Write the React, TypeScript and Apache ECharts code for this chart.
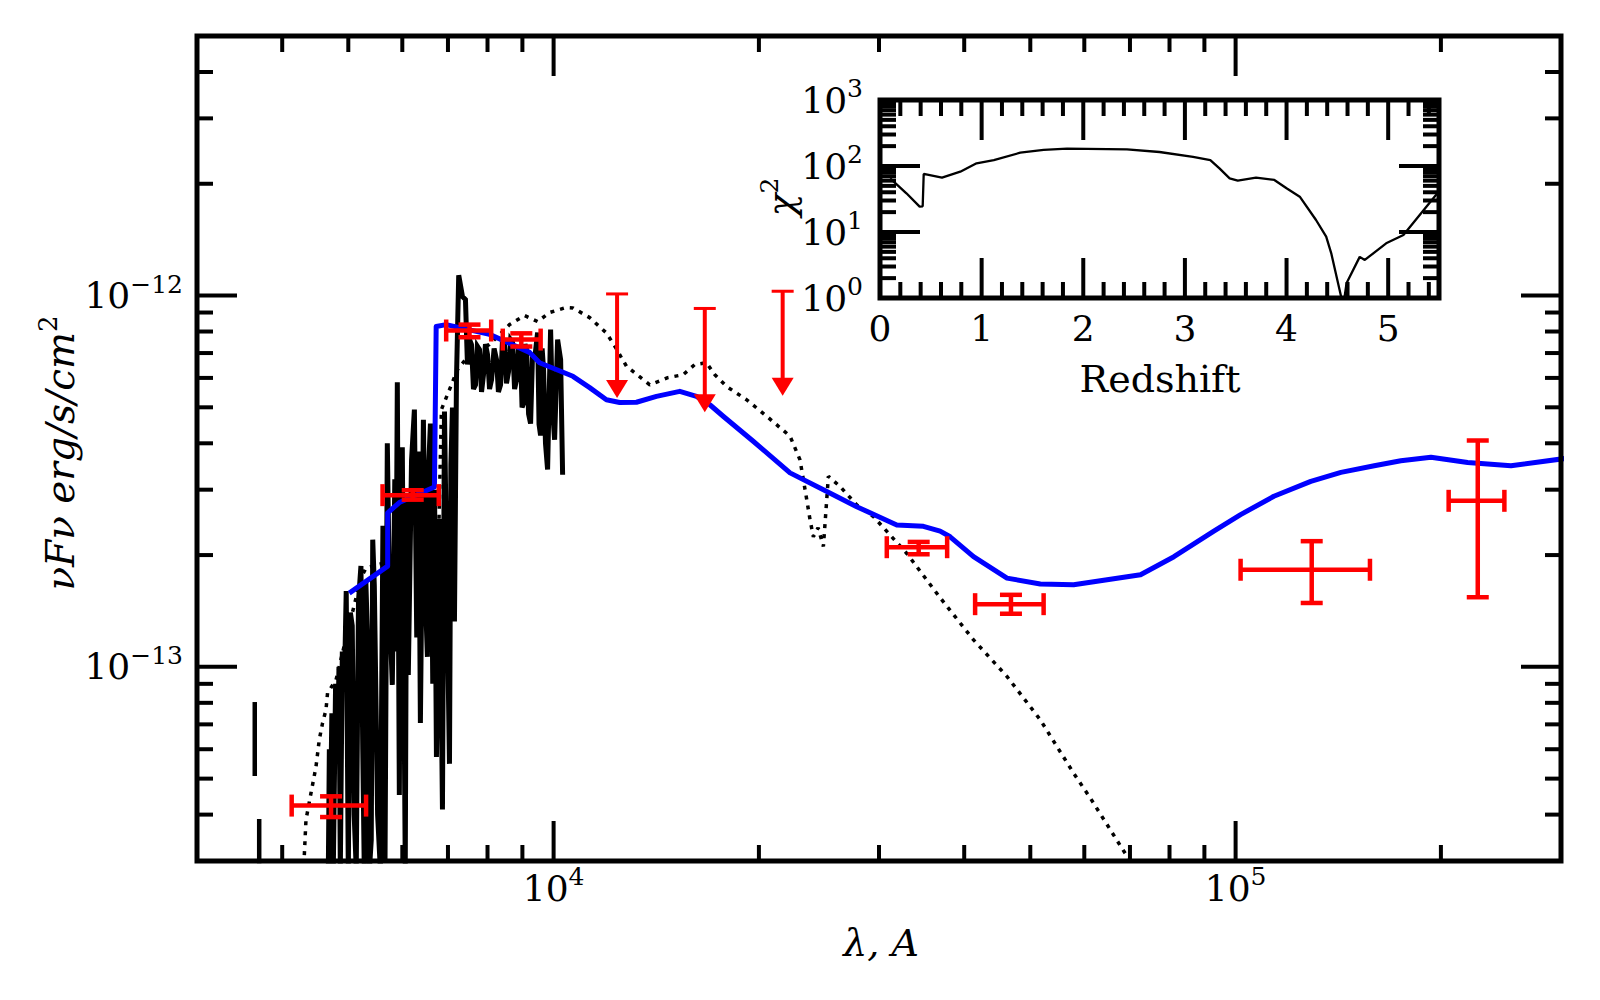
import React, { useEffect, useRef } from 'react';
import * as echarts from 'echarts';

const FONT = 'DejaVu Serif';
const FLUX_UNIT = 1e-14; // flux is plotted in units of 1e-14 erg/s/cm^2 (log axis precision)

// ---------- main panel: observed spectrum (solid black) ----------
const spectrumLambda = [4674, 4690, 4705, 4730, 4753, 4790, 4818, 4845, 4867, 4900, 4933, 4965, 5000, 5035, 5067, 5100, 5136, 5175, 5218, 5250, 5277, 5305, 5331, 5370, 5403, 5430, 5459, 5520, 5572, 5620, 5660, 5704, 5750, 5801, 5850, 5870, 5900, 5940, 5970, 6000, 6060, 6090, 6123, 6190, 6250, 6300, 6340, 6378, 6443, 6490, 6531, 6560, 6598, 6650, 6690, 6733, 6800, 6871, 6918, 6980, 7036, 7070, 7107, 7155, 7204, 7259, 7351, 7426, 7476, 7530, 7578, 7630, 7682, 7730, 7786, 7840, 7892, 7945, 8000, 8055, 8110, 8180, 8247, 8300, 8360, 8415, 8472, 8530, 8588, 8650, 8706, 8766, 8826, 8885, 8944, 8990, 9035, 9080, 9129, 9190, 9252, 9315, 9378, 9474, 9520, 9570, 9620, 9667, 9730, 9799, 9899, 9960, 10034, 10136, 10240, 10309];
const spectrumFlux = [2.84e-14, 6.0e-14, 3.64e-14, 7.5e-14, 2.84e-14, 9.0e-14, 5.61e-14, 1.0e-13, 2.84e-14, 1.1e-13, 8.67e-14, 1.6e-13, 2.84e-14, 1.4e-13, 1.29e-13, 4.0e-14, 2.84e-14, 1.5e-13, 1.87e-13, 6.0e-14, 2.84e-14, 1.7e-13, 1.258e-13, 2.84e-14, 3.42e-14, 2.2e-13, 1.653e-13, 4.0e-14, 2.84e-14, 2.4e-13, 3.0e-14, 4.0e-13, 1.4e-13, 8.94e-14, 3.2e-13, 1.1e-13, 5.84e-13, 4.52e-14, 3.3e-13, 3.9e-13, 2.9e-14, 2.8e-13, 9.51e-14, 3.6e-13, 4.93e-13, 1.2e-13, 3.8e-13, 7.06e-14, 4.63e-13, 1.5e-13, 1.064e-13, 3.5e-13, 4.52e-13, 9.0e-14, 3.0e-13, 5.72e-14, 2.5e-13, 4.13e-14, 4.87e-13, 1.5e-13, 5.48e-14, 3.5e-13, 4.99e-13, 1.325e-13, 5.94e-13, 1.134e-12, 9.94e-13, 9.75e-13, 6.52e-13, 7.6e-13, 7.38e-13, 5.6e-13, 5.75e-13, 7.3e-13, 7.15e-13, 5.5e-13, 6.12e-13, 7.4e-13, 6.93e-13, 5.6e-13, 5.94e-13, 7.2e-13, 6.72e-13, 5.5e-13, 5.75e-13, 7.6e-13, 7.38e-13, 5.8e-13, 6.24e-13, 7.6e-13, 7.47e-13, 5.6e-13, 5.94e-13, 7.3e-13, 7.02e-13, 5.0e-13, 5.12e-13, 7.4e-13, 7.15e-13, 4.8e-13, 4.52e-13, 7.0e-13, 6.72e-13, 7.95e-13, 4.5e-13, 4.2e-13, 7.2e-13, 6.32e-13, 4.0e-13, 3.4e-13, 8.1e-13, 5.0e-13, 4.09e-13, 7.61e-13, 6.72e-13, 3.29e-13];
const stubALambda = [3646, 3646];
const stubAFlux = [8.04e-14, 5.08e-14];
const stubBLambda = [3701, 3701];
const stubBFlux = [3.89e-14, 2.84e-14];

// ---------- main panel: template (dotted black) ----------
const templateLambda = [4310, 4334, 4408, 4483, 4533, 4584, 4637, 4662, 4797, 4933, 5016, 5218, 5308, 5551, 5940, 6356, 6756, 6847, 7036, 7228, 7528, 8054, 8618, 9066, 9474, 9865, 10414, 10674, 11295, 11951, 12331, 12787, 13836, 14703, 15484, 16107, 16757, 17236, 17932, 19187, 20533, 22217, 22977, 23506, 23768, 24036, 24422, 24864, 25147, 25286, 26303, 27829, 29436, 32952, 36878, 41278, 46216, 51719, 57877, 61242, 71340];
const templateFlux = [3.11e-14, 3.87e-14, 4.57e-14, 5.38e-14, 6.36e-14, 7.06e-14, 7.66e-14, 8.51e-14, 9.22e-14, 1.143e-13, 1.293e-13, 1.735e-13, 1.845e-13, 1.89e-13, 1.94e-13, 1.77e-13, 1.61e-13, 4.93e-13, 5.58e-13, 6.32e-13, 6.93e-13, 7.38e-13, 8.35e-13, 8.83e-13, 8.51e-13, 9.0e-13, 9.28e-13, 9.26e-13, 8.72e-13, 7.93e-13, 7.24e-13, 6.45e-13, 5.75e-13, 6.01e-13, 6.12e-13, 6.52e-13, 6.59e-13, 6.12e-13, 5.69e-13, 5.24e-13, 4.73e-13, 4.18e-13, 3.61e-13, 2.82e-13, 2.49e-13, 2.24e-13, 2.37e-13, 2.11e-13, 2.82e-13, 3.26e-13, 3.06e-13, 2.73e-13, 2.54e-13, 2.02e-13, 1.535e-13, 1.182e-13, 9.42e-14, 7.2e-14, 5.17e-14, 4.43e-14, 2.84e-14];

// ---------- main panel: best-fit model (blue) ----------
const modelLambda = [5016, 5711, 5711, 5940, 6688, 6727, 6958, 8054, 9221, 9537, 10674, 11295, 11951, 12500, 13226, 14152, 15311, 16200, 16947, 17728, 19620, 22217, 24864, 27829, 31854, 34850, 36878, 38148, 41278, 46216, 51719, 57877, 64796, 72540, 81200, 92920, 101700, 113800, 128900, 142700, 159700, 174700, 193400, 218900, 253400, 304100];
const modelFlux = [1.58e-13, 1.868e-13, 2.6e-13, 2.77e-13, 3.05e-13, 8.25e-13, 8.35e-13, 7.86e-13, 7.03e-13, 6.59e-13, 6.06e-13, 5.65e-13, 5.24e-13, 5.15e-13, 5.16e-13, 5.35e-13, 5.52e-13, 5.35e-13, 5.08e-13, 4.73e-13, 4.05e-13, 3.33e-13, 3.0e-13, 2.7e-13, 2.41e-13, 2.39e-13, 2.32e-13, 2.24e-13, 1.98e-13, 1.734e-13, 1.671e-13, 1.663e-13, 1.716e-13, 1.77e-13, 1.98e-13, 2.32e-13, 2.57e-13, 2.88e-13, 3.16e-13, 3.34e-13, 3.48e-13, 3.59e-13, 3.67e-13, 3.55e-13, 3.48e-13, 3.64e-13];

// ---------- main panel: photometry (red error bars) ----------
const photLambda = [4717, 6215, 7528, 8967, 34300, 46840, 129300, 226500];
const photLambdaLo = [4130, 5613, 6958, 8423, 30800, 41500, 101700, 205300];
const photLambdaHi = [5309, 6786, 8100, 9572, 37760, 52300, 157400, 247800];
const photFlux = [4.23e-14, 2.9e-13, 8.05e-13, 7.61e-13, 2.1e-13, 1.475e-13, 1.826e-13, 2.8e-13];
const photFluxLo = [3.94e-14, 2.82e-13, 7.72e-13, 7.29e-13, 2.01e-13, 1.39e-13, 1.486e-13, 1.54e-13];
const photFluxHi = [4.48e-14, 2.99e-13, 8.35e-13, 7.91e-13, 2.17e-13, 1.563e-13, 2.18e-13, 4.07e-13];

// ---------- main panel: upper limits (red arrows) ----------
const limitLambda = [12390, 16660, 21670];
const limitTop = [1.01e-12, 9.23e-13, 1.027e-12];
const limitTip = [5.3e-13, 4.85e-13, 5.37e-13];

// ---------- main panel ticks ----------
const lambdaMin = 3000;
const lambdaMax = 3e5;
const fluxMin = 3e-14;
const fluxMax = 5e-12;
const lambdaMajorTicks = [1e4, 1e5];
const lambdaMinorTicks = [4000, 5000, 6000, 7000, 8000, 9000, 2e4, 3e4, 4e4, 5e4, 6e4, 7e4, 8e4, 9e4, 2e5];
const fluxMajorTicks = [1e-13, 1e-12];
const fluxMinorTicks = [4e-14, 5e-14, 6e-14, 7e-14, 8e-14, 9e-14, 2e-13, 3e-13, 4e-13, 5e-13, 6e-13, 7e-13, 8e-13, 9e-13, 2e-12, 3e-12, 4e-12];

// ---------- inset: chi^2 vs redshift ----------
const redshift = [0.1, 0.26, 0.39, 0.42, 0.43, 0.61, 0.79, 0.95, 1.12, 1.38, 1.61, 1.84, 2.43, 2.75, 3.08, 3.25, 3.34, 3.44, 3.52, 3.7, 3.88, 4.0, 4.13, 4.29, 4.39, 4.44, 4.54, 4.555, 4.59, 4.72, 4.77, 4.98, 5.15, 5.47, 5.5];
const chi2 = [65, 38.6, 24.2, 24.5, 75.7, 66.5, 82, 110, 123, 159, 175, 183, 179, 163, 138, 123, 92, 65, 60, 66.5, 61.4, 45.9, 34.3, 15.2, 8.5, 4.75, 1.0, 0.7, 1.67, 4.2, 3.77, 6.74, 9.0, 36.4, 42];
const zMajorTicks = [0, 1, 2, 3, 4, 5];
const zMinorTicks = [0.2, 0.4, 0.6, 0.8, 1.2, 1.4, 1.6, 1.8, 2.2, 2.4, 2.6, 2.8, 3.2, 3.4, 3.6, 3.8, 4.2, 4.4, 4.6, 4.8, 5.2, 5.4];
const chiMajorTicks = [1, 10, 100, 1000];
const chiMinorTicks = [2, 3, 4, 5, 6, 7, 8, 9, 20, 30, 40, 50, 60, 70, 80, 90, 200, 300, 400, 500, 600, 700, 800, 900];

// ---------- helpers ----------
const scaleF = (f: number) => f / FLUX_UNIT;
const isPow10 = (v: number) => {
  const e = Math.log10(v);
  return isFinite(e) && Math.abs(e - Math.round(e)) < 1e-6;
};
const sup = (exp: number) => `{b|10}{s|${exp < 0 ? '\u2212' + -exp : exp}}`;
const labelRich = {
  b: { fontFamily: FONT, fontSize: 36, lineHeight: 48, color: '#000' },
  s: { fontFamily: FONT, fontSize: 25, lineHeight: 25, verticalAlign: 'top', color: '#000' },
};

function decor(o: {
  xMajor: number[]; xMinor: number[]; yMajor: number[]; yMinor: number[];
  xRef: number; yRef: number; major: number; minor: number; tickW: number; frameW: number;
}) {
  return (params: any, api: any) => {
    const cs = params.coordSys;
    const L = cs.x, T = cs.y, R = cs.x + cs.width, B = cs.y + cs.height;
    const ch: any[] = [];
    const seg = (x1: number, y1: number, x2: number, y2: number) =>
      ch.push({ type: 'line', shape: { x1, y1, x2, y2 }, style: { stroke: '#000', lineWidth: o.tickW, lineCap: 'butt' } });
    const xt = (v: number, len: number) => {
      const px = api.coord([v, o.yRef])[0];
      seg(px, B, px, B - len);
      seg(px, T, px, T + len);
    };
    const yt = (v: number, len: number) => {
      const py = api.coord([o.xRef, v])[1];
      seg(L, py, L + len, py);
      seg(R, py, R - len, py);
    };
    o.xMinor.forEach((v) => xt(v, o.minor));
    o.xMajor.forEach((v) => xt(v, o.major));
    o.yMinor.forEach((v) => yt(v, o.minor));
    o.yMajor.forEach((v) => yt(v, o.major));
    ch.push({ type: 'rect', shape: { x: L, y: T, width: R - L, height: B - T }, style: { fill: 'none', stroke: '#000', lineWidth: o.frameW } });
    return { type: 'group', children: ch };
  };
}

const RED = '#ff0000';

function errorBarItem(params: any, api: any) {
  const x = api.value(0), y = api.value(1);
  const c = api.coord([x, y]);
  const l = api.coord([api.value(2), y]);
  const r = api.coord([api.value(3), y]);
  const lo = api.coord([x, api.value(4)]);
  const hi = api.coord([x, api.value(5)]);
  const cap = 11;
  const st = { stroke: RED, lineWidth: 4.5, lineCap: 'butt' };
  const ln = (x1: number, y1: number, x2: number, y2: number) => ({ type: 'line', shape: { x1, y1, x2, y2 }, style: st });
  return {
    type: 'group',
    children: [
      ln(l[0], c[1], r[0], c[1]),
      ln(c[0], hi[1], c[0], lo[1]),
      ln(l[0], c[1] - cap, l[0], c[1] + cap),
      ln(r[0], c[1] - cap, r[0], c[1] + cap),
      ln(c[0] - cap, hi[1], c[0] + cap, hi[1]),
      ln(c[0] - cap, lo[1], c[0] + cap, lo[1]),
    ],
  };
}

function limitItem(params: any, api: any) {
  const x = api.value(0);
  const top = api.coord([x, api.value(1)]);
  const tip = api.coord([x, api.value(2)]);
  const head = 18, half = 11;
  return {
    type: 'group',
    children: [
      { type: 'line', shape: { x1: top[0] - half, y1: top[1], x2: top[0] + half, y2: top[1] }, style: { stroke: RED, lineWidth: 3 } },
      { type: 'line', shape: { x1: top[0], y1: top[1], x2: top[0], y2: tip[1] - head + 1 }, style: { stroke: RED, lineWidth: 4 } },
      { type: 'polygon', shape: { points: [[tip[0] - half, tip[1] - head], [tip[0] + half, tip[1] - head], [tip[0], tip[1]]] }, style: { fill: RED } },
    ],
  };
}

function buildOption() {
  const pairs = (xs: number[], ys: number[]) => xs.map((x, i) => [x, scaleF(ys[i])]);
  const lineBase = { type: 'line', xAxisIndex: 0, yAxisIndex: 0, symbol: 'none', showSymbol: false, silent: true, clip: true };
  return {
    animation: false,
    backgroundColor: '#ffffff',
    textStyle: { fontFamily: FONT },
    grid: [
      { left: 197, top: 36, width: 1364, height: 825, containLabel: false },
      { left: 880, top: 100, width: 559, height: 198, show: true, backgroundColor: '#ffffff', borderWidth: 0, containLabel: false },
    ],
    xAxis: [
      {
        type: 'log', gridIndex: 0, min: lambdaMin, max: lambdaMax, logBase: 10,
        axisLine: { show: false }, axisTick: { show: false }, splitLine: { show: false },
        axisLabel: { interval: 0, margin: 3, fontFamily: FONT, formatter: (v: number) => (isPow10(v) ? sup(Math.round(Math.log10(v))) : ''), rich: labelRich },
      },
      {
        type: 'value', gridIndex: 1, min: 0, max: 5.5, interval: 1,
        axisLine: { show: false }, axisTick: { show: false }, splitLine: { show: false },
        axisLabel: {
          interval: 0, margin: 12, fontFamily: FONT, fontSize: 36, color: '#000',
          formatter: (v: number) => (Math.abs(v - Math.round(v)) < 1e-9 ? String(Math.round(v)) : ''),
        },
      },
    ],
    yAxis: [
      {
        type: 'log', gridIndex: 0, min: scaleF(fluxMin), max: scaleF(fluxMax), logBase: 10,
        axisLine: { show: false }, axisTick: { show: false }, splitLine: { show: false },
        axisLabel: {
          interval: 0, margin: 14, fontFamily: FONT,
          formatter: (v: number) => (isPow10(v) ? sup(Math.round(Math.log10(v)) + Math.round(Math.log10(FLUX_UNIT))) : ''),
          rich: labelRich,
        },
      },
      {
        type: 'log', gridIndex: 1, min: 1, max: 1000, logBase: 10,
        axisLine: { show: false }, axisTick: { show: false }, splitLine: { show: false },
        axisLabel: { interval: 0, margin: 17, fontFamily: FONT, formatter: (v: number) => (isPow10(v) ? sup(Math.round(Math.log10(v))) : ''), rich: labelRich },
      },
    ],
    series: [
      { ...lineBase, name: 'template', data: pairs(templateLambda, templateFlux), lineStyle: { color: '#000', width: 3.5, type: [4, 6], cap: 'butt' }, z: 2 },
      { ...lineBase, name: 'spectrum', data: pairs(spectrumLambda, spectrumFlux), lineStyle: { color: '#000', width: 5, join: 'miter', cap: 'butt' }, z: 3 },
      { ...lineBase, name: 'spectrumA', data: pairs(stubALambda, stubAFlux), lineStyle: { color: '#000', width: 4.5, cap: 'butt' }, z: 3 },
      { ...lineBase, name: 'spectrumB', data: pairs(stubBLambda, stubBFlux), lineStyle: { color: '#000', width: 4.5, cap: 'butt' }, z: 3 },
      { ...lineBase, name: 'model', data: pairs(modelLambda, modelFlux), lineStyle: { color: '#0000ff', width: 5, join: 'round' }, z: 4 },
      {
        type: 'custom', name: 'photometry', xAxisIndex: 0, yAxisIndex: 0, silent: true, z: 5,
        renderItem: errorBarItem,
        encode: { x: [0, 2, 3], y: [1, 4, 5] },
        data: photLambda.map((l, i) => [l, scaleF(photFlux[i]), photLambdaLo[i], photLambdaHi[i], scaleF(photFluxLo[i]), scaleF(photFluxHi[i])]),
      },
      {
        type: 'custom', name: 'limits', xAxisIndex: 0, yAxisIndex: 0, silent: true, z: 5,
        renderItem: limitItem,
        encode: { x: 0, y: [1, 2] },
        data: limitLambda.map((l, i) => [l, scaleF(limitTop[i]), scaleF(limitTip[i])]),
      },
      {
        type: 'custom', name: 'mainFrame', xAxisIndex: 0, yAxisIndex: 0, silent: true, z: 10,
        renderItem: decor({
          xMajor: lambdaMajorTicks, xMinor: lambdaMinorTicks,
          yMajor: fluxMajorTicks.map(scaleF), yMinor: fluxMinorTicks.map(scaleF),
          xRef: lambdaMin, yRef: scaleF(fluxMin), major: 40, minor: 16, tickW: 4, frameW: 5,
        }),
        encode: { x: 0, y: 1 },
        data: [[lambdaMin, scaleF(fluxMin)]],
      },
      {
        type: 'line', name: 'chi2', xAxisIndex: 1, yAxisIndex: 1, symbol: 'none', showSymbol: false, silent: true, clip: true, z: 6,
        data: redshift.map((z, i) => [z, chi2[i]]),
        lineStyle: { color: '#000', width: 2.3 },
      },
      {
        type: 'custom', name: 'insetFrame', xAxisIndex: 1, yAxisIndex: 1, silent: true, z: 10,
        renderItem: decor({
          xMajor: zMajorTicks, xMinor: zMinorTicks, yMajor: chiMajorTicks, yMinor: chiMinorTicks,
          xRef: 0, yRef: 1, major: 40, minor: 16, tickW: 4, frameW: 5,
        }),
        encode: { x: 0, y: 1 },
        data: [[0, 1]],
      },
    ],
    graphic: [
      {
        type: 'text', x: 60, y: 453, rotation: Math.PI / 2, silent: true,
        style: {
          text: '{i|\u03bdF\u03bd erg/s/cm}{s|2}',
          align: 'center', verticalAlign: 'middle',
          rich: {
            i: { fontFamily: FONT, fontStyle: 'italic', fontSize: 39, lineHeight: 50, fill: '#000' },
            s: { fontFamily: FONT, fontSize: 26, lineHeight: 26, verticalAlign: 'top', fill: '#000' },
          },
        },
      },
      {
        type: 'text', x: 881, y: 943, silent: true,
        style: {
          text: '\u03bb, A', fontFamily: FONT, fontStyle: 'italic', fontSize: 38, fill: '#000',
          align: 'center', verticalAlign: 'middle',
        },
      },
      {
        type: 'text', x: 1160, y: 379, silent: true,
        style: {
          text: 'Redshift', fontFamily: FONT, fontSize: 38, fill: '#000',
          align: 'center', verticalAlign: 'middle',
        },
      },
      {
        type: 'text', x: 781, y: 197, rotation: Math.PI / 2, silent: true,
        style: {
          text: '{i|\u03c7}{s|2}',
          align: 'center', verticalAlign: 'middle',
          rich: {
            i: { fontFamily: FONT, fontStyle: 'italic', fontSize: 38, lineHeight: 48, fill: '#000' },
            s: { fontFamily: FONT, fontSize: 25, lineHeight: 25, verticalAlign: 'top', fill: '#000' },
          },
        },
      },
    ],
  };
}

export default function App() {
  const ref = useRef<HTMLDivElement>(null);
  useEffect(() => {
    if (!ref.current) return;
    const chart = echarts.init(ref.current, null, { renderer: 'svg' });
    chart.setOption(buildOption() as any);
    return () => chart.dispose();
  }, []);
  return (
    <div
      ref={ref}
      style={{ position: 'absolute', left: 0, top: 0, width: 1600, height: 1000, background: '#ffffff' }}
    />
  );
}
